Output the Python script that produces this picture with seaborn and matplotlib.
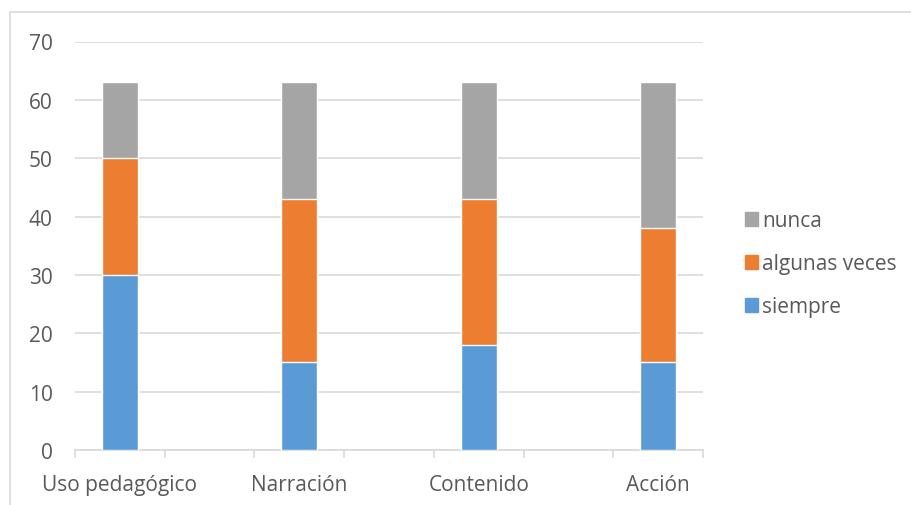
import matplotlib
matplotlib.use("Agg")
import matplotlib.pyplot as plt
import matplotlib.patches as mpatches
from matplotlib.lines import Line2D
import numpy as np
import seaborn as sns

# ── Data ─────────────────────────────────────────────────────────────────────
categories = ["Uso pedagógico", "Narración", "Contenido", "Acción"]
siempre = [30, 15, 18, 15]
algunas_veces = [20, 28, 25, 23]
nunca = [13, 20, 20, 25]
series_names = ["siempre", "algunas veces", "nunca"]

# ── Style ────────────────────────────────────────────────────────────────────
BLUE = "#5B9BD5"
ORANGE = "#ED7D31"
GRAY = "#A5A5A5"
TEXT = "#595959"
GRID = "#D9D9D9"
FS = 15

sns.set_style("white")
plt.rcParams["font.family"] = ["Open Sans", "DejaVu Sans"]

# an empty slot sits between each pair of categories, as in the original sheet
order = []
for i, c in enumerate(categories):
    order.append(c)
    if i < len(categories) - 1:
        order.append(" " * (i + 1))

low = np.array(siempre)
mid = low + np.array(algunas_veces)
top = mid + np.array(nunca)

fig = plt.figure(figsize=(9.12, 5.06), dpi=100)
ax = fig.add_axes([75 / 912, 1 - 451 / 506, 628 / 912, 408.5 / 506])

# stacked bars: draw cumulative totals from the top down
for vals, col in [(top, GRAY), (mid, ORANGE), (low, BLUE)]:
    sns.barplot(x=categories, y=vals, order=order, color=col, width=0.4,
                saturation=1, ax=ax, zorder=3)

ax.set_ylim(0, 70)
ax.set_yticks(range(0, 71, 10))
ax.set_xlim(-0.5, len(order) - 0.5)
ax.yaxis.grid(True, color=GRID, linewidth=1.2, zorder=0)
ax.set_axisbelow(True)
ax.set_xlabel("")
ax.set_ylabel("")

for s in ["top", "right", "left"]:
    ax.spines[s].set_visible(False)
ax.spines["bottom"].set_color(GRID)
ax.spines["bottom"].set_linewidth(1.2)

ax.set_xticks(range(len(order)))
ax.set_xticklabels(order)
ax.set_xticks(np.arange(-0.5, len(order), 1), minor=True)
ax.tick_params(axis="x", which="major", length=0, pad=17, labelsize=FS, labelcolor=TEXT)
ax.tick_params(axis="x", which="minor", bottom=True, direction="out",
               length=6, width=1.2, color=GRID)
ax.tick_params(axis="y", length=0, pad=16, labelsize=FS, labelcolor=TEXT)

handles = [mpatches.Patch(color=GRAY, label=series_names[2]),
           mpatches.Patch(color=ORANGE, label=series_names[1]),
           mpatches.Patch(color=BLUE, label=series_names[0])]
leg = fig.legend(handles=handles, loc="upper left",
                 bbox_to_anchor=(737 / 912, 1 - 203 / 506),
                 frameon=False, fontsize=FS, labelcolor=TEXT,
                 handlelength=0.62, handleheight=0.62, handletextpad=0.2,
                 labelspacing=1.05, borderaxespad=0)

# chart border (only top and left edges are visible in the crop)
fig.add_artist(Line2D([10 / 912, 1], [1 - 13 / 506] * 2, color=GRID,
                      linewidth=1.2, transform=fig.transFigure))
fig.add_artist(Line2D([10 / 912] * 2, [0, 1 - 13 / 506], color=GRID,
                      linewidth=1.2, transform=fig.transFigure))

fig.savefig("out.png", dpi=100)
